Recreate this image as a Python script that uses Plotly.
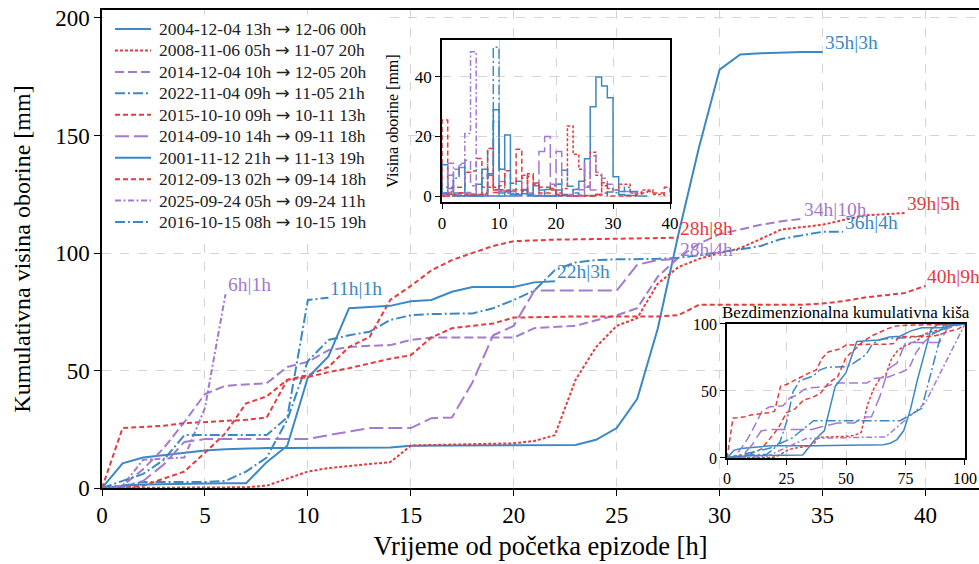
import numpy as np
import plotly.graph_objects as go

# ---------------- data (cumulative rainfall per hour, mm) ----------------
episode_labels = [
    "2004-12-04 13h → 12-06 00h",
    "2008-11-06 05h → 11-07 20h",
    "2014-12-04 10h → 12-05 20h",
    "2022-11-04 09h → 11-05 21h",
    "2015-10-10 09h → 10-11 13h",
    "2014-09-10 14h → 09-11 18h",
    "2001-11-12 21h → 11-13 19h",
    "2012-09-13 02h → 09-14 18h",
    "2025-09-24 05h → 09-24 11h",
    "2016-10-15 08h → 10-15 19h",
]
end_labels = ["35h|3h", "39h|5h", "34h|10h", "36h|4h", "28h|8h",
              "28h|4h", "22h|3h", "40h|9h", "6h|1h", "11h|1h"]

cum_2004_12_04 = [0, 10.5, 13, 14, 15, 16, 16.5, 16.8, 17, 17, 17, 17, 17, 17, 17.2, 18, 18, 18, 18, 18,
                  18, 18, 18.2, 18.3, 20.5, 25.5, 38, 68, 108, 145, 178, 184.5, 185, 185.3, 185.5, 185.5]
cum_2008_11_06 = [0, 0, 0, 0, 0, 0, 0, 0.3, 1, 4, 7, 8.5, 9.5, 10.2, 11, 18, 18.3, 18.5, 18.6, 18.8,
                  19, 20, 22.5, 46, 60, 69, 72.3, 87, 94, 97.5, 100, 102, 106, 110, 111, 112, 114, 116,
                  116.5, 117]
cum_2014_12_04 = [0, 1, 8, 17, 28, 40, 43.5, 44, 44.6, 51.5, 53.7, 58.6, 60, 60.5, 60.8, 63, 64, 64, 64,
                  64, 64, 68, 68.5, 69, 71.4, 73.5, 76.5, 90, 98, 104, 108, 110, 112, 113.5, 114.5]
cum_2022_11_04 = [0, 1, 2.5, 2.5, 2.5, 2.5, 3, 7, 13, 29, 54, 63, 65, 66.5, 71.5, 73.5, 74, 74, 74.3,
                  76.5, 80, 84, 92.7, 96, 97, 97.3, 97.3, 97.5, 98, 99, 100.4, 101.5, 103, 106, 107.5,
                  109, 109]
cum_2015_10_10 = [0, 0, 1, 4, 7, 15, 23.4, 36, 39, 46, 48, 51.5, 60, 64.3, 80, 86, 92.6, 97, 100, 103,
                  105, 105.5, 105.7, 105.8, 106, 106, 106.2, 106.3, 106.5]
cum_2014_09_10 = [0, 0.5, 3, 10, 19.6, 20.8, 20.8, 20.8, 20.8, 20.8, 20.8, 22.5, 24, 25.5, 25.5, 25.5,
                  29.7, 30, 45, 65, 69, 84, 84, 84, 84, 84, 95, 97, 97.5]
cum_2001_11_12 = [0, 1, 1.5, 1.7, 1.8, 2, 2, 2, 11, 18, 47, 56, 76.5, 77, 77.5, 79.5, 80, 83.5, 85.5,
                  85.5, 85.5, 87.5, 88]
cum_2012_09_13 = [0, 25.5, 26, 26.5, 27.6, 28, 28.5, 29, 30, 46, 47.2, 49.3, 51, 53, 55, 56.5, 64, 68,
                  69, 70, 72.5, 72.7, 73, 73, 73, 73, 73, 73, 73.5, 78, 78, 78, 78, 78, 78, 78.5, 79.5,
                  81, 82, 83, 86]
cum_2025_09_24 = [0, 1, 12, 12.5, 13, 34, 82.5]
cum_2016_10_15 = [0, 3, 6, 12, 22.5, 22.5, 22.5, 22.5, 22.5, 30, 80, 81]

series_values = [cum_2004_12_04, cum_2008_11_06, cum_2014_12_04, cum_2022_11_04, cum_2015_10_10,
                 cum_2014_09_10, cum_2001_11_12, cum_2012_09_13, cum_2025_09_24, cum_2016_10_15]

# ---------------- styles ----------------
BLUE, RED, PURPLE = "#3a88c5", "#e43b3d", "#a27acf"
colors = [BLUE, RED, PURPLE, BLUE, RED, PURPLE, BLUE, RED, PURPLE, BLUE]
dashes = ["solid", "3px,2px", "9px,4px", "10px,3px,2px,3px", "5px,3px",
          "14px,5px", "solid", "5px,3px", "6px,2.5px,2px,2.5px", "10px,3px,2px,3px"]

FONT = "Liberation Serif, Times New Roman, serif"
GRID = "#d4d4d4"

# figure geometry (pixels) used for placing the hand-drawn legend
W, H = 979, 564
ML, MR, MT, MB = 102, 0, 10, 76
PW, PH = W - ML - MR, H - MT - MB


def px_x(p):
    return (p - ML) / PW


def px_y(p):
    return (H - MB - p) / PH


fig = go.Figure()

# main cumulative curves
for name, vals, col, dash in zip(episode_labels, series_values, colors, dashes):
    hours = list(range(len(vals)))
    fig.add_trace(go.Scatter(x=hours, y=vals, mode="lines", name=name,
                             line=dict(color=col, dash=dash, width=2),
                             xaxis="x", yaxis="y", showlegend=False))

# inset 1: hourly rainfall (steps)
for vals, col, dash in zip(series_values, colors, dashes):
    v = np.array(vals, dtype=float)
    hourly = np.diff(v)
    xs = [0] + list(range(len(hourly) + 1))
    ys = [0] + list(hourly) + [0]
    fig.add_trace(go.Scatter(x=xs, y=ys, mode="lines", line_shape="hv",
                             line=dict(color=col, dash=dash, width=1.5),
                             xaxis="x2", yaxis="y2", showlegend=False))

# inset 2: dimensionless cumulative rain
for vals, col, dash in zip(series_values, colors, dashes):
    v = np.array(vals, dtype=float)
    n = len(v) - 1
    xs = 100.0 * np.arange(len(v)) / n
    ys = 100.0 * v / v[-1]
    fig.add_trace(go.Scatter(x=xs, y=ys, mode="lines",
                             line=dict(color=col, dash=dash, width=1.5),
                             xaxis="x3", yaxis="y3", showlegend=False))

# end-of-episode labels
annotations = []
for vals, col, lab in zip(series_values, colors, end_labels):
    annotations.append(dict(x=len(vals) - 1, y=vals[-1], xref="x", yref="y", text=lab,
                            showarrow=False, xanchor="left", yanchor="bottom", xshift=0, yshift=-3,
                            font=dict(family=FONT, size=19.5, color=col)))

annotations.append(dict(x=0.8484, y=0.3431, xref="paper", yref="paper",
                        text="Bezdimenzionalna kumulativna kiša", showarrow=False,
                        xanchor="center", yanchor="bottom", yshift=0,
                        font=dict(family=FONT, size=17, color="black")))

# hand-drawn legend (matplotlib-like)
shapes = [dict(type="rect", xref="paper", yref="paper", layer="above",
               x0=px_x(104), x1=px_x(381), y0=px_y(238), y1=px_y(15),
               fillcolor="rgba(255,255,255,0.93)", line=dict(width=0))]
for i, (name, col, dash) in enumerate(zip(episode_labels, colors, dashes)):
    yrow = 29 + 21.45 * i
    shapes.append(dict(type="line", xref="paper", yref="paper", layer="above",
                       x0=px_x(115), x1=px_x(151), y0=px_y(yrow), y1=px_y(yrow),
                       line=dict(color=col, dash=dash, width=2)))
    txt = name.replace("→", "<span style=\"font-family:'DejaVu Sans'\">→</span>")
    annotations.append(dict(x=px_x(157), y=px_y(yrow), xref="paper", yref="paper",
                            text=txt, showarrow=False, xanchor="left", yanchor="middle",
                            font=dict(family=FONT, size=17.5, color="#222222")))

axis_common = dict(showline=True, linecolor="black", ticks="outside", tickcolor="black",
                   showgrid=True, gridcolor=GRID, griddash="dash", gridwidth=1, zeroline=False,
                   automargin=False)

fig.update_layout(
    width=W, height=H,
    margin=dict(l=ML, r=MR, t=MT, b=MB, autoexpand=False),
    paper_bgcolor="white", plot_bgcolor="white",
    font=dict(family=FONT, color="black"),
    showlegend=False,
    xaxis=dict(domain=[0, 1], range=[0, 42.6], tickvals=[0, 5, 10, 15, 20, 25, 30, 35, 40],
               linewidth=1.5, ticklen=6, mirror=True,
               tickfont=dict(size=23),
               title=dict(text="Vrijeme od početka epizode [h]", font=dict(size=26.5), standoff=9),
               anchor="y", **axis_common),
    yaxis=dict(domain=[0, 1], range=[0, 203.4], tickvals=[0, 50, 100, 150, 200],
               linewidth=1.5, ticklen=6,
               tickfont=dict(size=23),
               title=dict(text="Kumulativna visina oborine [mm]", font=dict(size=24), standoff=18),
               anchor="x", **axis_common),
    xaxis2=dict(domain=[0.3877, 0.6477], range=[0, 40], tickvals=[0, 10, 20, 30, 40],
                linewidth=1.5, ticklen=5, mirror=True, tickfont=dict(size=17),
                anchor="y2", **axis_common),
    yaxis2=dict(domain=[0.5983, 0.9372], range=[-2, 52.4], tickvals=[0, 20, 40],
                linewidth=1.5, ticklen=5, mirror=True, tickfont=dict(size=17),
                title=dict(text="Visina oborine [mm]", font=dict(size=16), standoff=12),
                anchor="x2", **axis_common),
    xaxis3=dict(domain=[0.7127, 0.9840], range=[0, 100], tickvals=[0, 25, 50, 75, 100],
                linewidth=1.5, ticklen=5, mirror=True, tickfont=dict(size=16),
                anchor="y3", **axis_common),
    yaxis3=dict(domain=[0.0628, 0.3431], range=[0, 100], tickvals=[0, 50, 100],
                linewidth=1.5, ticklen=5, mirror=True, tickfont=dict(size=16),
                anchor="x3", **axis_common),
    annotations=annotations,
    shapes=shapes,
)

fig.write_html("out.html", config={"displayModeBar": False},
               post_script="document.body.style.margin='0';document.body.style.overflow='hidden';")
